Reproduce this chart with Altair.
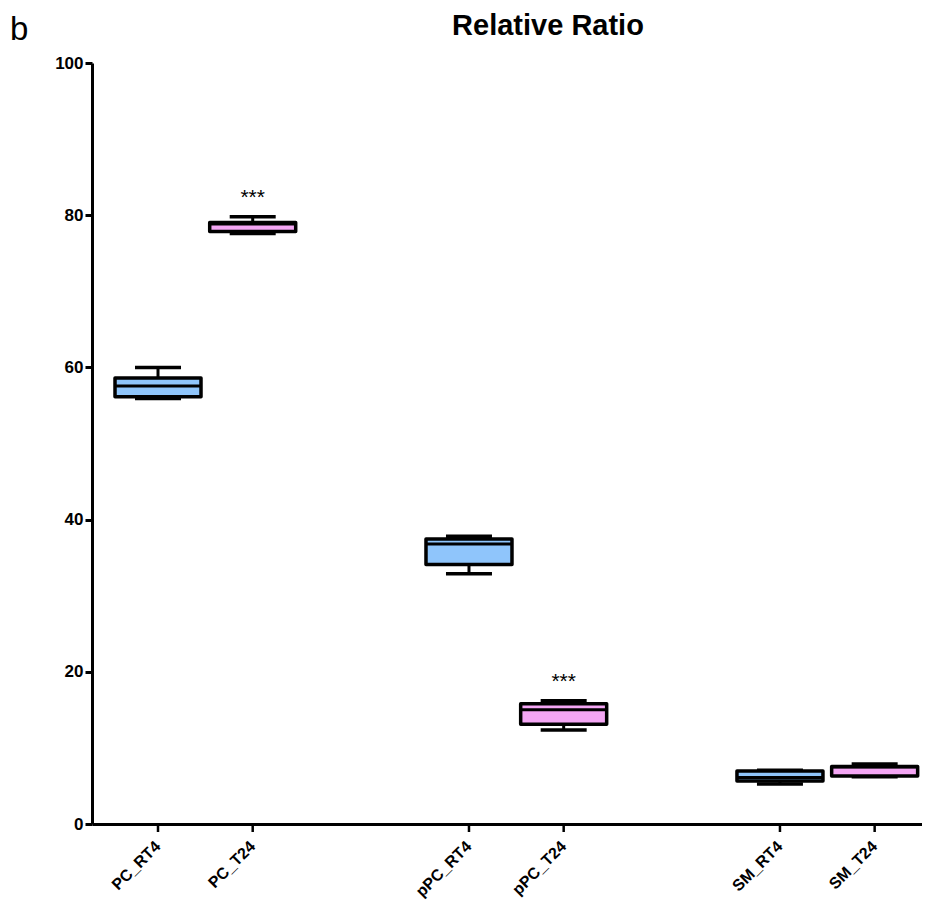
import altair as alt
import pandas as pd

# ---- data ----
categories = ["PC_RT4", "PC_T24", "pPC_RT4", "pPC_T24", "SM_RT4", "SM_T24"]
groups = ["PC", "PC", "pPC", "pPC", "SM", "SM"]
conditions = ["RT4", "T24", "RT4", "T24", "RT4", "T24"]
mins = [55.9, 77.6, 32.9, 12.35, 5.25, 6.2]
q1s = [56.15, 77.86, 34.1, 13.1, 5.65, 6.3]
medians = [57.55, 78.85, 36.8, 15.0, 6.1, 7.5]
q3s = [58.6, 79.05, 37.45, 15.8, 6.95, 7.55]
maxs = [60.0, 79.8, 37.8, 16.2, 7.05, 7.9]
significance = ["", "***", "", "***", "", ""]
y_ticks = [0, 20, 40, 60, 80, 100]

df = pd.DataFrame({
    "cat": categories, "group": groups, "cond": conditions,
    "min": mins, "q1": q1s, "median": medians, "q3": q3s, "max": maxs,
    "sig": significance,
})

FONT = "Liberation Sans"
W, H = 830, 761

x_enc = alt.X("group:N", sort=["PC", "pPC", "SM"],
              scale=alt.Scale(domain=["PC", "pPC", "SM"], paddingInner=0.391,
                              paddingOuter=0.03, align=1),
              axis=alt.Axis(labels=False, ticks=False, title=None, domain=True,
                            domainColor="black", domainWidth=3, grid=False))
xo_enc = alt.XOffset("cond:N", scale=alt.Scale(domain=["RT4", "T24"], paddingInner=0, paddingOuter=0))
y_scale = alt.Scale(domain=[0, 100], nice=False, zero=True)
y_axis = alt.Axis(values=y_ticks, title=None, grid=False, domainColor="black", domainWidth=3,
                  tickColor="black", tickWidth=3, tickSize=7, labelFont=FONT, labelFontSize=17,
                  labelFontWeight="bold", labelColor="black", labelPadding=2)
color = alt.Color("cond:N", scale=alt.Scale(domain=["RT4", "T24"], range=["#8fc5fb", "#f4a6f4"]), legend=None)

base = alt.Chart(df)

whisk_up = base.mark_rule(color="black", strokeWidth=3).encode(
    x=x_enc, xOffset=xo_enc, y=alt.Y("q3:Q", scale=y_scale, axis=y_axis), y2="max:Q")
whisk_dn = base.mark_rule(color="black", strokeWidth=3).encode(
    x=x_enc, xOffset=xo_enc, y=alt.Y("min:Q", scale=y_scale, axis=y_axis), y2="q1:Q")
cap_top = base.mark_tick(color="black", thickness=3.5, size=46, opacity=1).encode(
    x=x_enc, xOffset=xo_enc, y=alt.Y("max:Q", scale=y_scale, axis=y_axis))
cap_bot = base.mark_tick(color="black", thickness=3.5, size=46, opacity=1).encode(
    x=x_enc, xOffset=xo_enc, y=alt.Y("min:Q", scale=y_scale, axis=y_axis))
box = base.mark_bar(width=86, stroke="black", strokeWidth=3.5, strokeJoin="round", opacity=1).encode(
    x=x_enc, xOffset=xo_enc, y=alt.Y("q1:Q", scale=y_scale, axis=y_axis), y2="q3:Q", color=color)
med = base.mark_tick(color="black", thickness=3, size=86, opacity=1).encode(
    x=x_enc, xOffset=xo_enc, y=alt.Y("median:Q", scale=y_scale, axis=y_axis))
stars = base.transform_calculate(sy="datum.max + 2.5").mark_text(
    font=FONT, fontSize=21, color="black", baseline="middle").encode(
    x=x_enc, xOffset=xo_enc, y=alt.Y("sy:Q", scale=y_scale, axis=y_axis), text="sig:N")

xticks = base.mark_rule(color="black", strokeWidth=2.5).encode(
    x=x_enc, xOffset=xo_enc, y=alt.value(H), y2=alt.value(H + 8))
xlabels = base.mark_text(font=FONT, fontSize=16, fontWeight="bold", color="black",
                         angle=315, align="right", baseline="middle").encode(
    x=x_enc, xOffset=xo_enc, y=alt.value(H + 20), text="cat:N")

title_df = pd.DataFrame({"t": ["Relative Ratio"]})
title = alt.Chart(title_df).mark_text(font=FONT, fontSize=29, fontWeight="bold", color="black",
                                      align="center", baseline="alphabetic").encode(
    x=alt.value(456), y=alt.value(-28), text="t:N")
panel_df = pd.DataFrame({"t": ["b"]})
panel = alt.Chart(panel_df).mark_text(font=FONT, fontSize=33, color="black",
                                      align="left", baseline="alphabetic").encode(
    x=alt.value(-82), y=alt.value(-23), text="t:N")

chart = alt.layer(whisk_up, whisk_dn, cap_top, cap_bot, box, med, stars, xticks, xlabels, title, panel).properties(
    width=W, height=H,
    background="white",
    autosize=alt.AutoSizeParams(type="none"),
    padding={"left": 84, "top": 55, "right": 0, "bottom": 78},
).configure_view(strokeWidth=0, stroke="transparent").configure_axis(grid=False)

chart.save("out.html", embed_options={"renderer": "svg", "actions": False})
